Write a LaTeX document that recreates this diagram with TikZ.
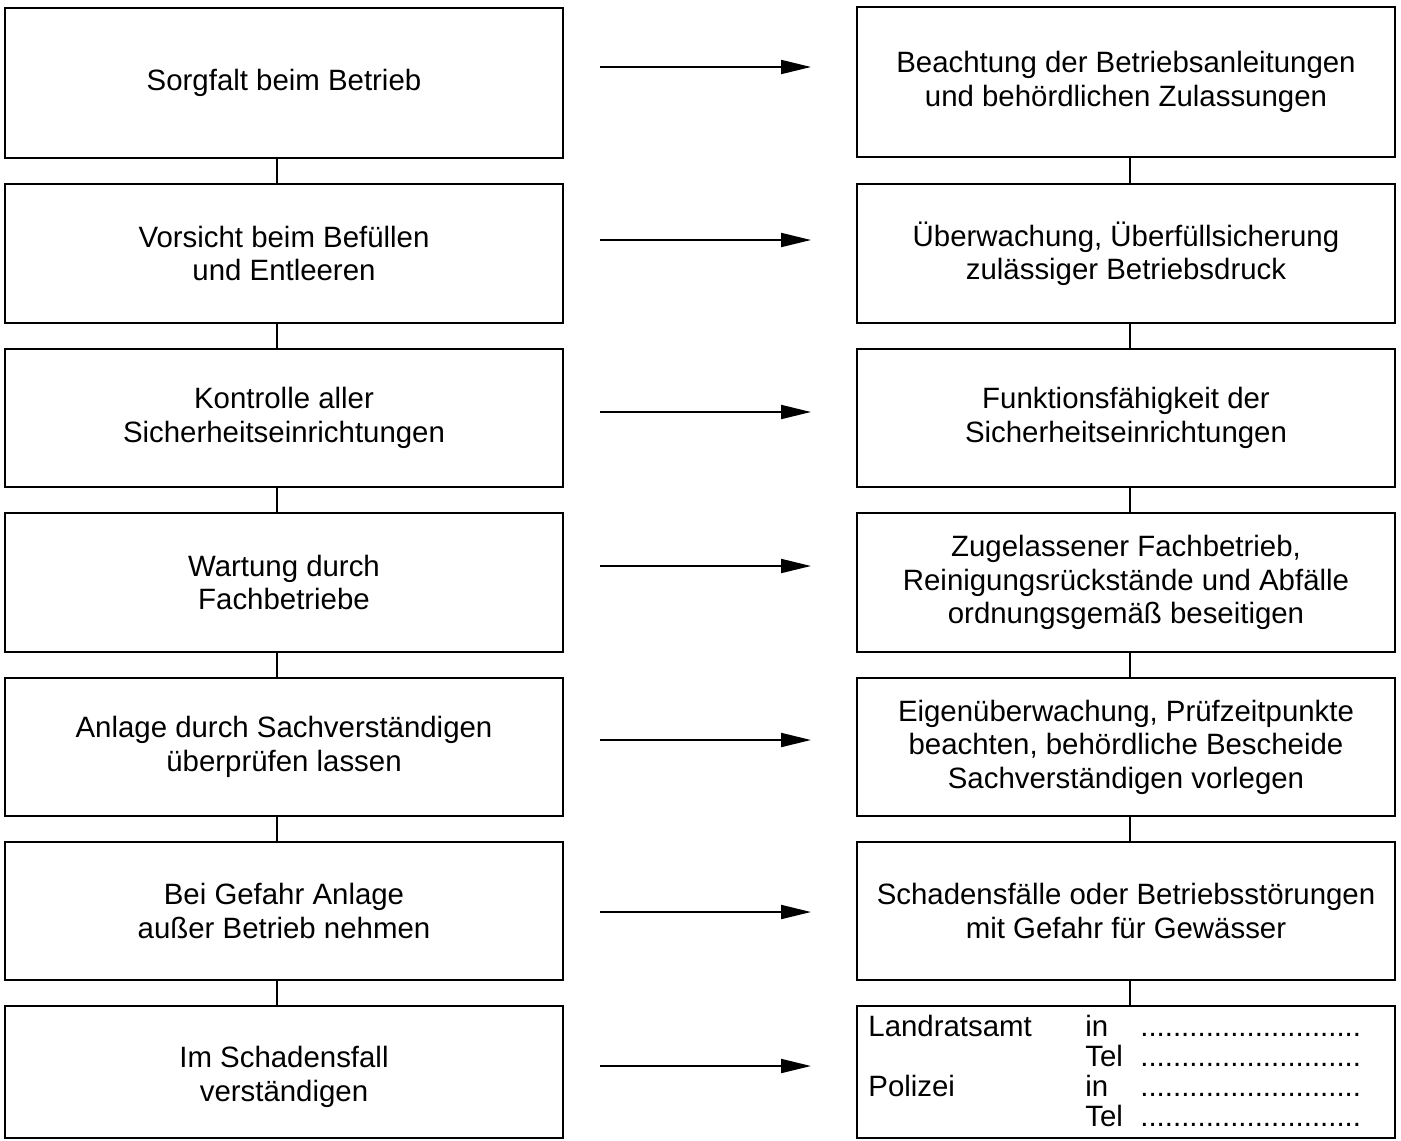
\documentclass[tikz,border=0pt]{standalone}
\usepackage{fontspec}
\setmainfont{Liberation Sans}
\usetikzlibrary{calc,arrows.meta}

\begin{document}
\begin{tikzpicture}[x=0.5pt, y=-0.5pt, >={Triangle[length=15pt,width=7pt]}, font=\fontsize{14.7}{16.7}\selectfont]
\def \lw {1.3pt}
  \tikzstyle{block} = [draw, color=black, rectangle, line width=\lw, align=center, text=black, inner sep=0]
  \tikzstyle{lblock} = [block, minimum width=279pt]
  \tikzstyle{rblock} = [block, minimum width=269pt]
  \tikzstyle{lines} = [black, line width=1pt, ->]
  \tikzstyle{lines2} = [black, line width=\lw, -]

\useasboundingbox (0,0) rectangle (1401,1140);

%%%%%%%%%%%%%%%%%%%%%%%%%%%%%%%%%%%%%%%%%%%%%%%%%%%%%%%%%%%%%%%%%%%%%%%%%%%%%%%

\coordinate (care_pose) at (284, 83);
\coordinate (fill_pose) at (284, 253.5);
\coordinate (check_pose) at (284, 418);
\coordinate (service_pose) at (284, 582.5);
\coordinate (expert_pose) at (284, 747);
\coordinate (danger_pose) at (284, 911);
\coordinate (notify_pose) at (284, 1072);

\coordinate (manual_pose) at (1126, 82);
\coordinate (monitor_pose) at (1126, 253.5);
\coordinate (function_pose) at (1126, 418);
\coordinate (company_pose) at (1126, 582.5);
\coordinate (selfcheck_pose) at (1126, 747);
\coordinate (damage_pose) at (1126, 911);
\coordinate (contact_pose) at (1126, 1072);

\coordinate (lconn) at (277, 0);
\coordinate (rconn) at (1130, 0);

%%%%%%%%%%%%%%%%%%%%%%%%%%%%%%%%%%%%%%%%%%%%%%%%%%%%%%%%%%%%%%%%%%%%%%%%%%%%%%%

\node[lblock, minimum height=75pt] (care) at (care_pose) {Sorgfalt beim Betrieb};
\node[lblock, minimum height=69.5pt] (fill) at (fill_pose) {Vorsicht beim Befüllen\\und Entleeren};
\node[lblock, minimum height=69pt] (check) at (check_pose) {Kontrolle aller\\Sicherheitseinrichtungen};
\node[lblock, minimum height=69.5pt] (service) at (service_pose) {Wartung durch\\Fachbetriebe};
\node[lblock, minimum height=69pt] (expert) at (expert_pose) {Anlage durch Sachverständigen\\überprüfen lassen};
\node[lblock, minimum height=69pt] (danger) at (danger_pose) {Bei Gefahr Anlage\\außer Betrieb nehmen};
\node[lblock, minimum height=66pt,
      label={[align=center, yshift=-2.5pt]center:Im Schadensfall\\verständigen}] (notify) at (notify_pose) {};

\node[rblock, minimum height=75pt] (manual) at (manual_pose) {Beachtung der Betriebsanleitungen\\und behördlichen Zulassungen};
\node[rblock, minimum height=69.5pt] (monitor) at (monitor_pose) {Überwachung, Überfüllsicherung\\zulässiger Betriebsdruck};
\node[rblock, minimum height=69pt] (function) at (function_pose) {Funktionsfähigkeit der\\Sicherheitseinrichtungen};
\node[rblock, minimum height=69.5pt] (company) at (company_pose) {Zugelassener Fachbetrieb,\\Reinigungsrückstände und Abfälle\\ordnungsgemäß beseitigen};
\node[rblock, minimum height=69pt] (selfcheck) at (selfcheck_pose) {Eigenüberwachung, Prüfzeitpunkte\\beachten, behördliche Bescheide\\Sachverständigen vorlegen};
\node[rblock, minimum height=69pt] (damage) at (damage_pose) {Schadensfälle oder Betriebsstörungen\\mit Gefahr für Gewässer};
\node[rblock, minimum height=66pt] (contact) at (contact_pose) {};

\node[anchor=base west, inner sep=0, font=\fontsize{14.7}{15}\selectfont] (phones) at (868, 1036)
  {\begin{tabular}[t]{@{}p{108.5pt}@{}p{27.5pt}@{}l@{}}
   Landratsamt & in  & ...........................\\
               & Tel & ...........................\\
   Polizei     & in  & ...........................\\
               & Tel & ...........................
   \end{tabular}};

%%%%%%%%%%%%%%%%%%%%%%%%%%%%%%%%%%%%%%%%%%%%%%%%%%%%%%%%%%%%%%%%%%%%%%%%%%%%%%%

\draw[lines2] (care.south -| lconn) -- (fill.north -| lconn);
\draw[lines2] (fill.south -| lconn) -- (check.north -| lconn);
\draw[lines2] (check.south -| lconn) -- (service.north -| lconn);
\draw[lines2] (service.south -| lconn) -- (expert.north -| lconn);
\draw[lines2] (expert.south -| lconn) -- (danger.north -| lconn);
\draw[lines2] (danger.south -| lconn) -- (notify.north -| lconn);

\draw[lines2] (manual.south -| rconn) -- (monitor.north -| rconn);
\draw[lines2] (monitor.south -| rconn) -- (function.north -| rconn);
\draw[lines2] (function.south -| rconn) -- (company.north -| rconn);
\draw[lines2] (company.south -| rconn) -- (selfcheck.north -| rconn);
\draw[lines2] (selfcheck.south -| rconn) -- (damage.north -| rconn);
\draw[lines2] (damage.south -| rconn) -- (contact.north -| rconn);

\coordinate (a1s) at (600, 67);   \coordinate (a1e) at (811, 67);
\coordinate (a2s) at (600, 240);  \coordinate (a2e) at (811, 240);
\coordinate (a3s) at (600, 412);  \coordinate (a3e) at (811, 412);
\coordinate (a4s) at (600, 566);  \coordinate (a4e) at (811, 566);
\coordinate (a5s) at (600, 740);  \coordinate (a5e) at (811, 740);
\coordinate (a6s) at (600, 912);  \coordinate (a6e) at (811, 912);
\coordinate (a7s) at (600, 1066); \coordinate (a7e) at (811, 1066);

\draw[lines] (a1s) -- (a1e);
\draw[lines] (a2s) -- (a2e);
\draw[lines] (a3s) -- (a3e);
\draw[lines] (a4s) -- (a4e);
\draw[lines] (a5s) -- (a5e);
\draw[lines] (a6s) -- (a6e);
\draw[lines] (a7s) -- (a7e);

\end{tikzpicture}
\end{document}
